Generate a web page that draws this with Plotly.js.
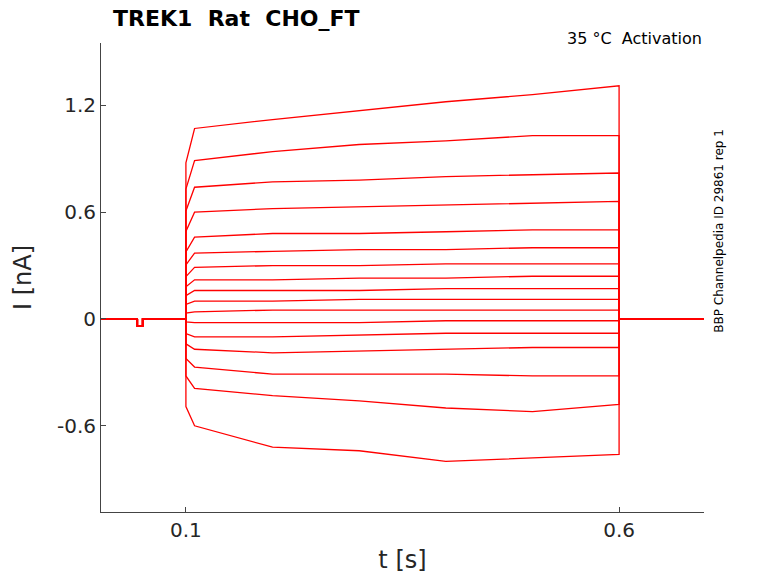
<!DOCTYPE html>
<html>
<head>
<meta charset="utf-8">
<script src="https://cdn.plot.ly/plotly-3.0.1.min.js"></script>
<style>body{margin:0;background:#fff}#plot{width:778px;height:583px}</style>
</head>
<body>
<div id="plot"></div>
<script>
// sample times during the step (s)
const stepTimes = [0.11, 0.2, 0.3, 0.4, 0.5, 0.6];
// current (nA) of each sweep at those times
const sweeps = [
  [1.07, 1.12, 1.17, 1.22, 1.26, 1.31],
  [0.89, 0.94, 0.98, 1.00, 1.03, 1.03],
  [0.74, 0.77, 0.78, 0.80, 0.81, 0.82],
  [0.60, 0.62, 0.63, 0.64, 0.65, 0.66],
  [0.46, 0.48, 0.48, 0.49, 0.50, 0.50],
  [0.37, 0.38, 0.39, 0.39, 0.40, 0.40],
  [0.29, 0.30, 0.30, 0.31, 0.31, 0.31],
  [0.22, 0.22, 0.23, 0.23, 0.24, 0.24],
  [0.16, 0.16, 0.16, 0.17, 0.17, 0.17],
  [0.10, 0.10, 0.11, 0.11, 0.11, 0.11],
  [0.04, 0.05, 0.05, 0.05, 0.05, 0.05],
  [-0.02, -0.02, -0.02, -0.01, -0.01, -0.01],
  [-0.10, -0.10, -0.09, -0.08, -0.08, -0.08],
  [-0.17, -0.19, -0.18, -0.17, -0.16, -0.16],
  [-0.27, -0.31, -0.31, -0.31, -0.32, -0.32],
  [-0.39, -0.43, -0.46, -0.50, -0.52, -0.48],
  [-0.60, -0.72, -0.74, -0.80, -0.78, -0.76]
];
// holding segment before and after the step
const preTimes = [0, 0.044, 0.044, 0.05, 0.05, 0.1];
const preVals = [0, 0, -0.04, -0.04, 0, 0];
const postTimes = [0.6, 0.61, 0.7];
const postVals = [0, 0, 0];

const traces = sweeps.map(v => ({
  type: 'scatter', mode: 'lines',
  x: [...preTimes, 0.1, ...stepTimes, ...postTimes],
  y: [...preVals, v[0] * 0.82, ...v, ...postVals],
  line: {color: 'red', width: 1.3},
  hoverinfo: 'skip', showlegend: false
}));

const layout = {
  width: 778, height: 583,
  margin: {l: 101, r: 74, t: 43, b: 71},
  paper_bgcolor: '#fff', plot_bgcolor: '#fff',
  font: {family: 'DejaVu Sans', color: '#262626'},
  title: {text: '<b>TREK1  Rat  CHO_FT</b>', font: {size: 22, color: '#000'},
    x: 113 / 778, xanchor: 'left', y: 1 - 18 / 583, yanchor: 'middle'},
  xaxis: {range: [0.002, 0.698], tickvals: [0.1, 0.6], ticktext: ['0.1', '0.6'],
    ticks: 'inside', ticklen: 5, showgrid: false, zeroline: false,
    showline: true, linecolor: '#444', tickfont: {size: 20},
    title: {text: 't [s]', font: {size: 24}, standoff: 10}},
  yaxis: {range: [-1.084, 1.55], tickvals: [-0.6, 0, 0.6, 1.2], ticktext: ['-0.6', '0', '0.6', '1.2'],
    ticks: 'inside', ticklen: 5, showgrid: false, zeroline: false,
    showline: true, linecolor: '#444', tickfont: {size: 20},
    title: {text: 'I [nA]', font: {size: 24}, standoff: 18}},
  annotations: [
    {text: '35 °C  Activation', xref: 'paper', yref: 'paper', x: 1, y: 1.035,
      xanchor: 'right', yanchor: 'top', showarrow: false, font: {size: 16, color: '#000'}},
    {text: 'BBP Channelpedia ID 29861 rep 1', xref: 'paper', yref: 'paper', x: 1.025, y: 0.6,
      xanchor: 'center', yanchor: 'middle', textangle: -90, showarrow: false, font: {size: 12, color: '#000'}}
  ]
};

Plotly.newPlot('plot', traces, layout, {staticPlot: true, displayModeBar: false});
</script>
</body>
</html>
